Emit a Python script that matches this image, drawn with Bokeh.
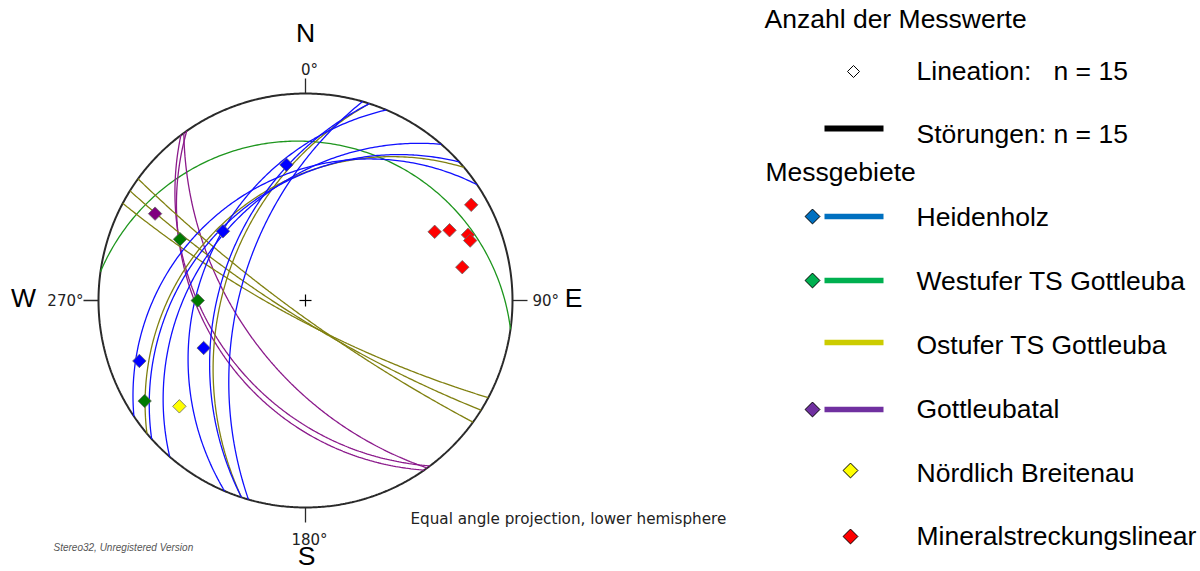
import numpy as np
from bokeh.plotting import figure
from bokeh.models import Range1d
from bokeh.core.properties import value
from bokeh.embed import file_html
from bokeh.resources import INLINE

# ---------------- data ----------------
# great circles (planes): dip direction / dip in degrees
heid_plane_dipdir = [286, 288, 293, 311, 318, 326]
heid_plane_dip = [55, 45, 36, 36, 34, 29]
west_plane_dipdir = [8]
west_plane_dip = [15]
ost_plane_dipdir = [288, 320, 208, 212, 216]
ost_plane_dip = [47, 33, 79, 80, 82]
gott_plane_dipdir = [234, 233, 235]
gott_plane_dip = [55, 41, 39]

# lineations: trend / plunge in degrees
heid_lin_trend = [352, 310, 245, 250]
heid_lin_plunge = [23, 35, 33, 9]
west_lin_trend = [296, 270, 238]
west_lin_plunge = [22, 35, 5]
gott_lin_trend = [300]
gott_lin_plunge = [10]
breit_lin_trend = [230]
breit_lin_plunge = [13]
mineral_trend = [60, 62, 64, 68, 70, 78]
mineral_plunge = [4.5, 19.5, 14.5, 9.5, 9.5, 14.5]

direction_labels = ["N", "E", "S", "W"]
degree_labels = ["0°", "90°", "180°", "270°"]
legend_labels = ["Heidenholz", "Westufer TS Gottleuba", "Ostufer TS Gottleuba",
                 "Gottleubatal", "Nördlich Breitenau", "Mineralstreckungslinear"]
legend_title1 = "Anzahl der Messwerte"
legend_title2 = "Messgebiete"
lin_label = "Lineation:\u00a0\u00a0\u00a0n = 15"
fault_label = "Störungen: n = 15"

# ---------------- projection helpers ----------------
def proj(trend, plunge):
    t = np.radians(np.asarray(trend, float))
    p = np.radians(np.asarray(plunge, float))
    r = np.tan((np.pi / 2 - p) / 2)
    return r * np.sin(t), r * np.cos(t)

def great_circle(dipdir, dip, n=240):
    dd = np.radians(dipdir)
    d = np.radians(dip)
    st = dd - np.pi / 2
    th = np.linspace(0, np.pi, n)
    s = np.array([np.sin(st), np.cos(st), 0.0])
    dv = np.array([np.cos(d) * np.sin(dd), np.cos(d) * np.cos(dd), np.sin(d)])
    v = np.outer(np.cos(th), s) + np.outer(np.sin(th), dv)
    plunge = np.degrees(np.arcsin(np.clip(v[:, 2], -1, 1)))
    trend = np.degrees(np.arctan2(v[:, 0], v[:, 1]))
    x, y = proj(trend, plunge)
    return list(x), list(y)

# screen layout helpers (reference pixel -> data units; net radius 207 px, centre at 305,300)
R = 207.0
CX, CY = 305.0, 300.0
def X(px):
    return (px - CX) / R
def Y(py):
    return (CY - py) / R
def TB(py, fs):
    # text baseline correction (bokeh draws text slightly lower than the given baseline)
    return Y(py - 0.4 * fs)

W, H = 1200, 571
p = figure(width=W, height=H, output_backend="svg", toolbar_location=None,
           x_axis_location=None, y_axis_location=None, min_border=0,
           x_range=Range1d(X(0), X(W)), y_range=Range1d(Y(H), Y(0)))
p.grid.visible = False
p.outline_line_color = None
p.background_fill_color = "white"
p.border_fill_color = "white"

# primitive circle
a = np.linspace(0, 2 * np.pi, 721)
p.line(np.cos(a), np.sin(a), line_color="#2a2a2a", line_width=2)

# ticks at N E S W
tick_len = 15 / R
for ang in [0, 90, 180, 270]:
    t = np.radians(ang)
    p.line([np.sin(t), (1 + tick_len) * np.sin(t)], [np.cos(t), (1 + tick_len) * np.cos(t)],
           line_color="#2a2a2a", line_width=1.3)

# centre cross
c = 6 / R
p.line([-c, c], [0, 0], line_color="black", line_width=1.2)
p.line([0, 0], [-c, c], line_color="black", line_width=1.2)

# great circles
def draw_planes(dds, dips, color, lw=1.3):
    xs, ys = [], []
    for dd, dp in zip(dds, dips):
        x, y = great_circle(dd, dp)
        xs.append(x); ys.append(y)
    p.multi_line(xs, ys, line_color=color, line_width=lw)

draw_planes(west_plane_dipdir, west_plane_dip, "#1E961E")
draw_planes(gott_plane_dipdir, gott_plane_dip, "#8B1A8B")
draw_planes(ost_plane_dipdir, ost_plane_dip, "#808010")
draw_planes(heid_plane_dipdir, heid_plane_dip, "#1010FF")

# lineations
def draw_lins(tr, pl, color):
    x, y = proj(tr, pl)
    p.scatter(x, y, marker="square", angle=np.pi / 4, size=9.5,
              fill_color=color, line_color="#666666", line_width=0.8)

draw_lins(heid_lin_trend, heid_lin_plunge, "#0000FF")
draw_lins(west_lin_trend, west_lin_plunge, "#007A00")
draw_lins(gott_lin_trend, gott_lin_plunge, "#800080")
draw_lins(breit_lin_trend, breit_lin_plunge, "#FFFF00")
draw_lins(mineral_trend, mineral_plunge, "#FF0000")

# labels around net
BIG = 26.5
big = "26.5px"
FONT = value("Liberation Sans")
p.text(x=[X(305), X(573), X(306), X(23)],
       y=[TB(43, BIG), TB(308, BIG), TB(566, BIG), TB(308, BIG)],
       text=direction_labels, text_font=FONT, text_font_size=big,
       text_align="center", text_baseline="alphabetic", text_color="black")
p.text(x=[X(309), X(532), X(309), X(83)],
       y=[TB(75, 15), TB(306, 15), TB(545, 15), TB(306, 15)],
       text=degree_labels, text_font=value("DejaVu Sans"), text_font_size="15px",
       text_align=["center", "left", "center", "right"], text_baseline="alphabetic",
       text_color="#222222")
p.text(x=[X(410)], y=[TB(525, 15.2)], text=["Equal angle projection, lower hemisphere"],
       text_font=value("DejaVu Sans"), text_font_size="15.2px",
       text_align="left", text_baseline="alphabetic", text_color="#222222")
p.text(x=[X(53)], y=[TB(551, 10)], text=["Stereo32, Unregistered Version"],
       text_font=value("Liberation Sans"), text_font_size="10px", text_font_style="italic",
       text_align="left", text_baseline="alphabetic", text_color="#555555")

# ---------------- legend ----------------
p.text(x=[X(764), X(765)], y=[TB(29, BIG), TB(182, BIG)], text=[legend_title1, legend_title2],
       text_font=FONT, text_font_size=big, text_align="left",
       text_baseline="alphabetic", text_color="black")
p.text(x=[X(916), X(916)], y=[TB(81, BIG), TB(144, BIG)], text=[lin_label, fault_label],
       text_font=FONT, text_font_size=big, text_align="left",
       text_baseline="alphabetic", text_color="black")
p.scatter([X(853)], [Y(71)], marker="square", angle=np.pi / 4, size=8.5,
          fill_color="white", line_color="black", line_width=1)
p.line([X(824), X(883)], [Y(128), Y(128)], line_color="black", line_width=6)

leg_base = [227, 291, 355, 419, 483, 546]
leg_mid = [216, 280, 342, 409, 470, 536]
leg_colors = ["#0070C0", "#00B050", "#CCCC00", "#7030A0", "#FFFF00", "#FF0000"]
leg_has_line = [True, True, True, True, False, False]
leg_has_marker = [True, True, False, True, True, True]
p.text(x=[X(916)] * 6, y=[TB(b, BIG) for b in leg_base], text=legend_labels,
       text_font=FONT, text_font_size=big, text_align="left",
       text_baseline="alphabetic", text_color="black")
for m, col, hl, hm in zip(leg_mid, leg_colors, leg_has_line, leg_has_marker):
    if hl:
        p.line([X(824), X(883)], [Y(m), Y(m)], line_color=col, line_width=5.5)
        if hm:
            p.scatter([X(812)], [Y(m)], marker="square", angle=np.pi / 4, size=10.5,
                      fill_color=col, line_color="black", line_width=1)
    elif hm:
        p.scatter([X(850)], [Y(m)], marker="square", angle=np.pi / 4, size=10.5,
                  fill_color=col, line_color="black", line_width=1)

open("out.html", "w").write(file_html(p, INLINE))
